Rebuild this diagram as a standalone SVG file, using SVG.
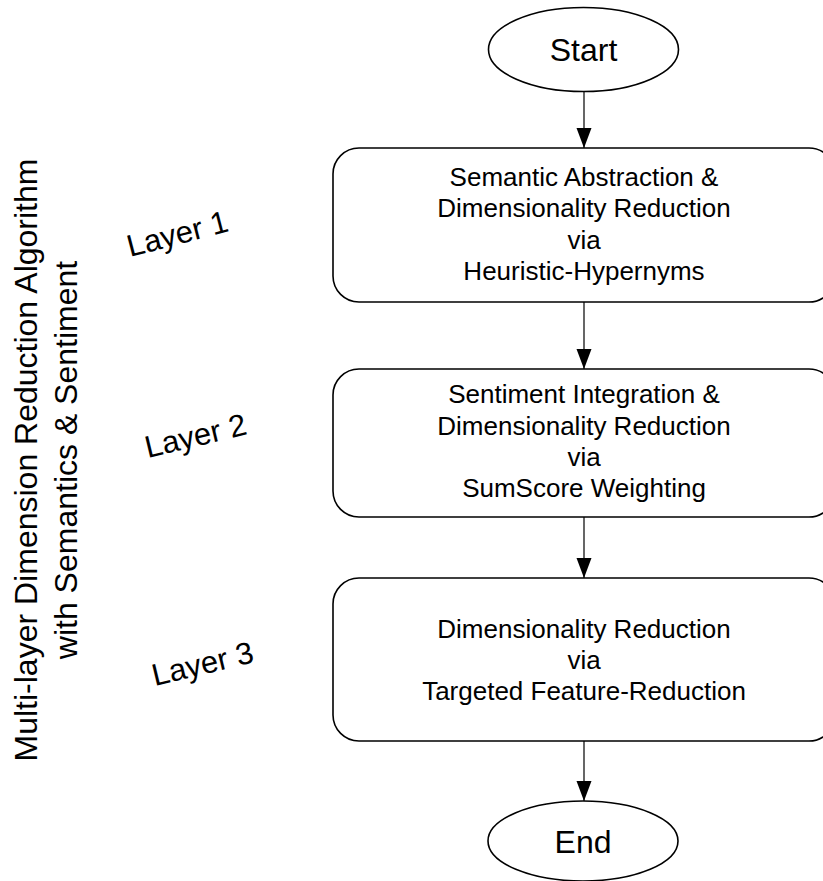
<svg xmlns="http://www.w3.org/2000/svg" width="823" height="881" viewBox="0 0 823 881">
  <style>
    .shape { fill: #ffffff; stroke: #000000; stroke-width: 1.6; }
    .link { fill: none; stroke: #000000; stroke-width: 1.2; }
    .txt { font-family: "Liberation Sans", Arial, sans-serif; fill: #000000; text-anchor: middle; }
    .box-txt { font-size: 26px; }
    .term-txt { font-size: 32px; }
    .layer-txt { font-size: 31px; }
    .side-txt { font-size: 32px; }
  </style>
  <defs>
    <marker id="arrow" markerUnits="userSpaceOnUse" markerWidth="21" markerHeight="16" refX="20" refY="7.5" orient="auto">
      <path d="M0,0 L20,7.5 L0,15 Z" fill="#000000"/>
    </marker>
  </defs>
  <rect width="823" height="881" fill="#ffffff"/>

  <!-- rotated title on the left -->
  <g id="title">
    <text class="txt side-txt" transform="translate(37,460) rotate(-90)">Multi-layer Dimension Reduction Algorithm</text>
    <text class="txt side-txt" transform="translate(77,460) rotate(-90)">with Semantics &amp; Sentiment</text>
  </g>

  <!-- layer labels -->
  <g id="layer1"><text class="txt layer-txt" transform="translate(180,244) rotate(-14.5)">Layer 1</text></g>
  <g id="layer2"><text class="txt layer-txt" transform="translate(198,446) rotate(-13.5)">Layer 2</text></g>
  <g id="layer3"><text class="txt layer-txt" transform="translate(205,674) rotate(-13.5)">Layer 3</text></g>

  <!-- connectors -->
  <g id="connectors">
    <line class="link" x1="584" y1="92" x2="584" y2="148" marker-end="url(#arrow)"/>
    <line class="link" x1="584" y1="302" x2="584" y2="369" marker-end="url(#arrow)"/>
    <line class="link" x1="584" y1="517" x2="584" y2="578" marker-end="url(#arrow)"/>
    <line class="link" x1="584" y1="741" x2="584" y2="801" marker-end="url(#arrow)"/>
  </g>

  <g id="start">
    <ellipse class="shape" cx="583.5" cy="49.5" rx="95" ry="42"/>
    <text class="txt term-txt" x="583.5" y="60.5">Start</text>
  </g>

  <g id="step1">
    <rect class="shape" x="333" y="148" width="502" height="154" rx="26" ry="26"/>
    <text class="txt box-txt" x="584" y="186">Semantic Abstraction &amp;</text>
    <text class="txt box-txt" x="584" y="217">Dimensionality Reduction</text>
    <text class="txt box-txt" x="584" y="249">via</text>
    <text class="txt box-txt" x="584" y="280">Heuristic-Hypernyms</text>
  </g>

  <g id="step2">
    <rect class="shape" x="333" y="369" width="502" height="148" rx="26" ry="26"/>
    <text class="txt box-txt" x="584" y="403">Sentiment Integration &amp;</text>
    <text class="txt box-txt" x="584" y="435">Dimensionality Reduction</text>
    <text class="txt box-txt" x="584" y="466">via</text>
    <text class="txt box-txt" x="584" y="497">SumScore Weighting</text>
  </g>

  <g id="step3">
    <rect class="shape" x="333" y="578" width="502" height="163" rx="26" ry="26"/>
    <text class="txt box-txt" x="584" y="638">Dimensionality Reduction</text>
    <text class="txt box-txt" x="584" y="669">via</text>
    <text class="txt box-txt" x="584" y="700">Targeted Feature-Reduction</text>
  </g>

  <g id="end">
    <ellipse class="shape" cx="583" cy="841" rx="95" ry="40"/>
    <text class="txt term-txt" x="583" y="853">End</text>
  </g>
</svg>
